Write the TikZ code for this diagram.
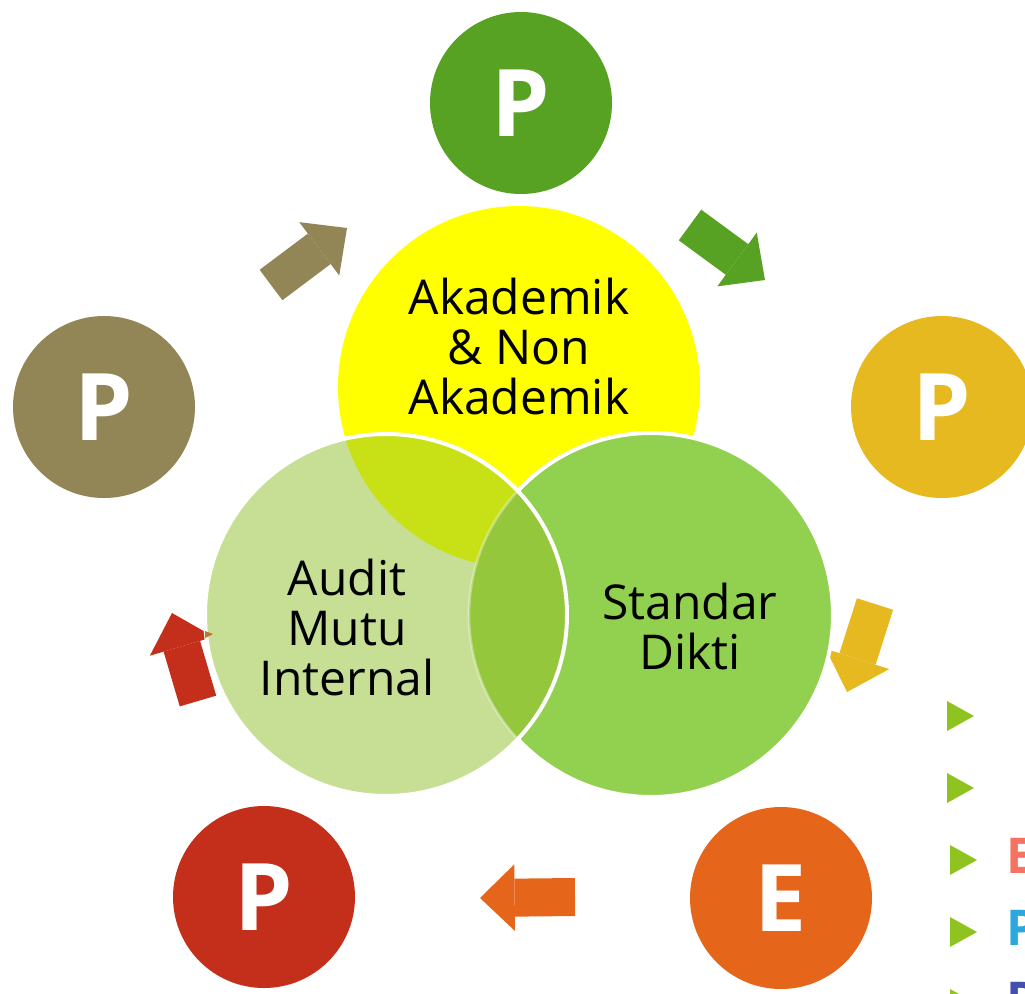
\documentclass[tikz,border=0pt]{standalone}
\usepackage{fontspec}
\setmainfont{Open Sans}
\usetikzlibrary{arrows.meta}

\definecolor{pgreen}{HTML}{57A123}
\definecolor{pgold}{HTML}{E6B920}
\definecolor{porange}{HTML}{E5661A}
\definecolor{pred}{HTML}{C32F1B}
\definecolor{polive}{HTML}{938656}
\definecolor{vyellow}{HTML}{FFFF00}
\definecolor{vlight}{HTML}{C6DF95}
\definecolor{vgreen}{HTML}{92D050}
\definecolor{mixyl}{HTML}{C8E016}
\definecolor{mixgl}{HTML}{94C73C}
\definecolor{bulletgreen}{HTML}{8FC31F}
\definecolor{esalmon}{HTML}{F47363}
\definecolor{pblue}{HTML}{2BA8E0}
\definecolor{ppurple}{HTML}{4350AE}
\definecolor{tipbrown}{HTML}{B8782A}

\tikzset{
  pcircle/.style={circle, minimum size=136.5pt, inner sep=0pt, text=white,
    font=\fontsize{70}{70}\selectfont\bfseries},
  venntext/.style={align=center, inner sep=0pt,
    font=\fontsize{36}{37.5}\selectfont},
  cyclearrow/.style={line width=28.5pt,
    -{Triangle[length=26pt, width=50pt, line width=0pt]}},
  itemletter/.style={anchor=base west, inner sep=0pt,
    font=\fontsize{37}{37}\selectfont\bfseries},
}

\begin{document}
\begin{tikzpicture}[x=0.75pt, y=-0.75pt]
  \useasboundingbox (0,0) rectangle (1025,993);
  \clip (0,0) rectangle (1025,993);

  % arrows of the cycle
  \coordinate (a1s) at (271,285);
  \coordinate (a1e) at (347,228);
  \coordinate (a2s) at (690,225);
  \coordinate (a2e) at (765,280);
  \coordinate (a3s) at (875,604);
  \coordinate (a3e) at (847,692);
  \coordinate (a4s) at (575,897);
  \coordinate (a4e) at (480,898);
  \coordinate (a5s) at (198,701);
  \coordinate (a5e) at (172,613);
  \draw [cyclearrow, polive] (a1s) -- (a1e);
  \draw [cyclearrow, pgreen] (a2s) -- (a2e);
  \draw [cyclearrow, pgold] (a3s) -- (a3e);
  \draw [cyclearrow, porange] (a4s) -- (a4e);
  \draw [cyclearrow, pred] (a5s) -- (a5e);

  % venn
  \fill [vyellow] (519,387) circle (135.75pt);
  \fill [vgreen] (651,615) circle (136.5pt);
  \draw [white, line width=3pt] (651,615) circle (136.5pt);
  \fill [vlight] (386,615) circle (135.75pt);
  \begin{scope}
    \clip (386,615) circle (135.75pt);
    \fill [mixyl] (519,387) circle (135.75pt);
    \fill [mixgl] (651,615) circle (136.5pt);
    \draw [white, opacity=0.35, line width=2pt] (651,615) circle (136.5pt);
  \end{scope}
  \draw [white, line width=3pt] (386,615) circle (135.75pt);
  \fill [tipbrown] (205,631) -- (213,634) -- (205,638) -- cycle;

  \node [venntext] (akademik) at (519,346) {Akademik\\\& Non\\Akademik};
  \node [venntext] (audit) at (347,627) {Audit\\Mutu\\Internal};
  \node [venntext] (standar) at (690,626) {Standar\\Dikti};

  % stages
  \node [pcircle, fill=pgreen] (penetapan) at (521,103) {P};
  \node [pcircle, fill=pgold] (pelaksanaan) at (942,407) {P};
  \node [pcircle, fill=porange] (evaluasi) at (781,898) {E};
  \node [pcircle, fill=pred] (pengendalian) at (264,897) {P};
  \node [pcircle, fill=polive] (peningkatan) at (104,407) {P};

  % list at the right
  \foreach \x/\y in {947/716, 947/788, 950/860, 950/932, 950/1004}
    \fill [bulletgreen] (\x,\y-15) -- (\x+27,\y) -- (\x,\y+15) -- cycle;
  \node [itemletter, text=esalmon] (item3) at (1006,873) {E};
  \node [itemletter, text=pblue] (item4) at (1006,945) {P};
  \node [itemletter, text=ppurple] (item5) at (1006,1017) {P};
\end{tikzpicture}
\end{document}
